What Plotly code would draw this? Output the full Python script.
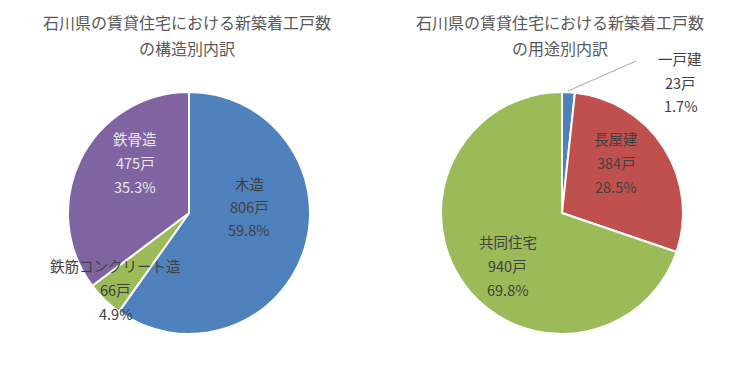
import plotly.graph_objects as go

# Left pie: structure breakdown
struct_labels = ["木造", "鉄筋コンクリート造", "鉄骨造"]
struct_values = [806, 66, 475]
struct_colors = ["#4F81BD", "#9BBB59", "#8064A2"]

# Right pie: usage breakdown
use_labels = ["一戸建", "長屋建", "共同住宅"]
use_values = [23, 384, 940]
use_colors = ["#4F81BD", "#C0504D", "#9BBB59"]

title_left = ["石川県の賃貸住宅における新築着工戸数", "の構造別内訳"]
title_right = ["石川県の賃貸住宅における新築着工戸数", "の用途別内訳"]

FONT = "Noto Sans CJK JP, Meiryo, sans-serif"
W, H = 745, 373

fig = go.Figure()
fig.add_trace(go.Pie(
    labels=struct_labels, values=struct_values, sort=False, direction="clockwise",
    rotation=0, textinfo="none", hoverinfo="label+value+percent",
    marker=dict(colors=struct_colors, line=dict(color="white", width=2)),
    domain=dict(x=[68 / W, 310 / W], y=[1 - 334 / H, 1 - 92 / H]),
    showlegend=False,
))
fig.add_trace(go.Pie(
    labels=use_labels, values=use_values, sort=False, direction="clockwise",
    rotation=0, textinfo="none", hoverinfo="label+value+percent",
    marker=dict(colors=use_colors, line=dict(color="white", width=2)),
    domain=dict(x=[441 / W, 683 / W], y=[1 - 334 / H, 1 - 92 / H]),
    showlegend=False,
))

ann = []

def px(x, y):
    return x / W, 1 - y / H

def add_text(text, x, y, size, color):
    ax, ay = px(x, y)
    ann.append(dict(text=text, x=ax, y=ay, xref="paper", yref="paper",
                    xanchor="center", yanchor="middle", showarrow=False,
                    font=dict(family=FONT, size=size, color=color)))

# titles
for i, t in enumerate(title_left):
    add_text(t, 187, 22 + 26 * i, 16, "#595959")
for i, t in enumerate(title_right):
    add_text(t, 560, 22 + 26 * i, 16, "#595959")

def label_block(name, value, total, x, y0, color, dy=24):
    pct = f"{value / total * 100:.1f}%"
    add_text(name, x, y0, 14.5, color)
    add_text(f"{value}戸", x, y0 + dy, 14.5, color)
    add_text(pct, x, y0 + 2 * dy, 14.5, color)

tot_s = sum(struct_values)
tot_u = sum(use_values)
dark = "#404040"
label_block(struct_labels[0], struct_values[0], tot_s, 249, 183, dark, 23)
label_block(struct_labels[1], struct_values[1], tot_s, 115, 265, dark, 24)
label_block(struct_labels[2], struct_values[2], tot_s, 135, 138, "#E8E8E8", 24)

label_block(use_labels[0], use_values[0], tot_u, 680, 58, dark, 24)
label_block(use_labels[1], use_values[1], tot_u, 616, 138, dark, 24)
label_block(use_labels[2], use_values[2], tot_u, 508, 241, dark, 24)

fig.update_layout(
    width=W, height=H, margin=dict(l=0, r=0, t=0, b=0),
    paper_bgcolor="white", plot_bgcolor="white",
    annotations=ann,
    shapes=[dict(type="line", xref="paper", yref="paper",
                 x0=636 / W, y0=1 - 61 / H, x1=568 / W, y1=1 - 91 / H,
                 line=dict(color="#A6A6A6", width=1))],
)

fig.write_html("out.html", config={"displayModeBar": False},
               post_script="document.body.style.margin='0';")
